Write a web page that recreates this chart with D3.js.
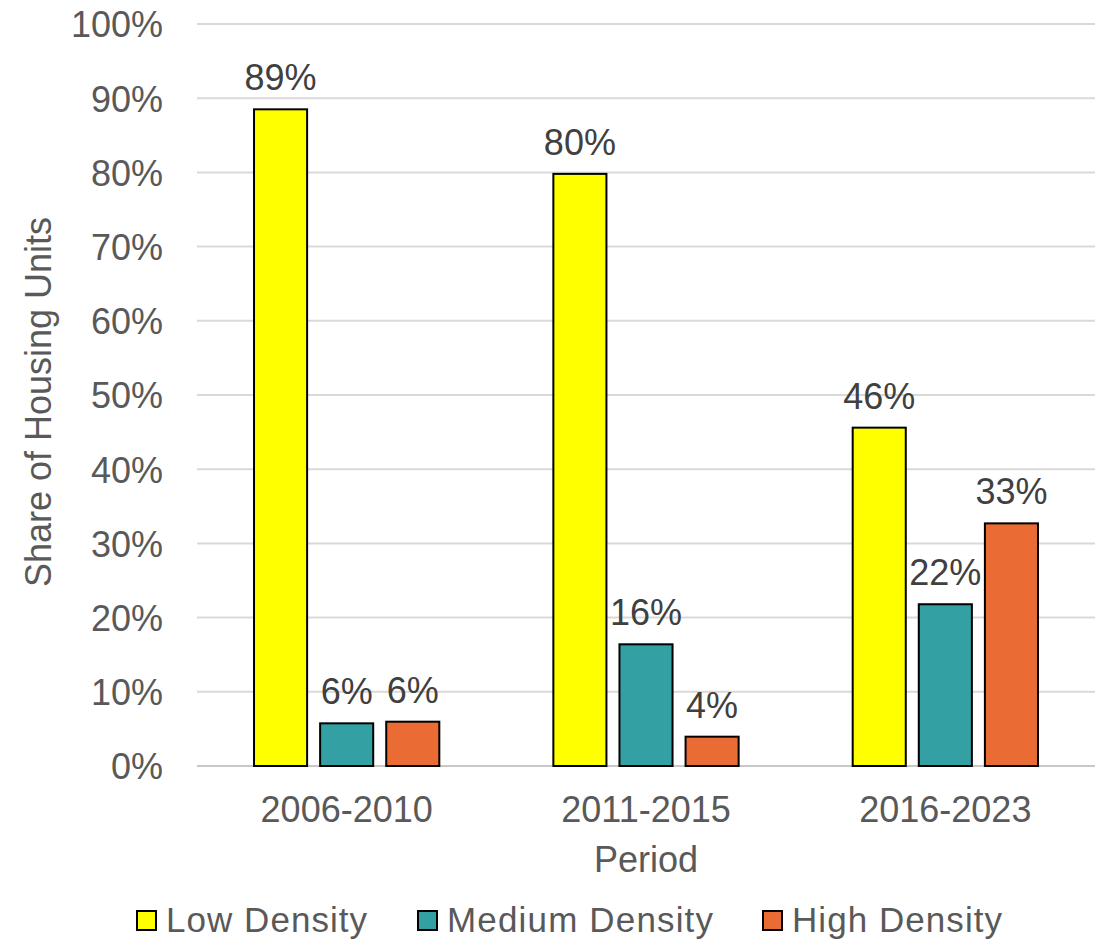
<!DOCTYPE html>
<html>
<head>
<meta charset="utf-8">
<script src="https://cdn.jsdelivr.net/npm/d3@7"></script>
<style>
	body { margin: 0; background: #fff; }
	text { font-family: Arial, "Liberation Sans", sans-serif; }
</style>
</head>
<body>
<div id="chart"></div>
<script>
// Data
const periods = ['2006-2010', '2011-2015', '2016-2023'];
const seriesNames = ['Low Density', 'Medium Density', 'High Density'];
const lowDensity = [0.885, 0.798, 0.456];
const mediumDensity = [0.0575, 0.164, 0.218];
const highDensity = [0.0597, 0.0395, 0.327];
const seriesColors = ['#ffff00', '#33a0a4', '#eb6b34'];
const yTicks = [0, 0.1, 0.2, 0.3, 0.4, 0.5, 0.6, 0.7, 0.8, 0.9, 1.0];

const seriesValues = [lowDensity, mediumDensity, highDensity];

const width = 1099, height = 941;
const margin = { top: 24, right: 4, bottom: 175, left: 197 };
const plotW = width - margin.left - margin.right;
const plotH = height - margin.top - margin.bottom;

const svg = d3.select('#chart').append('svg')
	.attr('width', width)
	.attr('height', height);

const g = svg.append('g')
	.attr('transform', 'translate(' + margin.left + ',' + margin.top + ')');

const x0 = d3.scaleBand()
	.domain(periods)
	.range([0, plotW])
	.paddingInner(0.381)
	.paddingOuter(0.1905);

const x1 = d3.scaleBand()
	.domain(seriesNames)
	.range([0, x0.bandwidth()])
	.paddingInner(0.197)
	.paddingOuter(0);

const y = d3.scaleLinear()
	.domain([0, 1])
	.range([plotH, 0]);

// gridlines
g.append('g')
	.selectAll('line')
	.data(yTicks)
	.join('line')
	.attr('x1', 0)
	.attr('x2', plotW)
	.attr('y1', d => y(d))
	.attr('y2', d => y(d))
	.attr('stroke', d => d === 0 ? '#c8c8c8' : '#d9d9d9')
	.attr('stroke-width', 2);

// y axis labels
const yAxis = g.append('g')
	.call(d3.axisLeft(y).tickValues(yTicks).tickFormat(d3.format('.0%')).tickSize(0).tickPadding(34));
yAxis.select('.domain').remove();
yAxis.selectAll('text')
	.attr('fill', '#595959')
	.style('font-size', '36px')
	.attr('dy', '0.36em');

// x axis labels
const xAxis = g.append('g')
	.attr('transform', 'translate(0,' + plotH + ')')
	.call(d3.axisBottom(x0).tickSize(0).tickPadding(30));
xAxis.select('.domain').remove();
xAxis.selectAll('text')
	.attr('fill', '#595959')
	.style('font-size', '36px')
	.attr('dy', '0.71em');

// bars
const rows = [];
periods.forEach((p, i) => {
	seriesNames.forEach((s, j) => {
		rows.push({ period: p, series: s, value: seriesValues[j][i], color: seriesColors[j] });
	});
});

const groups = g.append('g').selectAll('g')
	.data(rows)
	.join('g');

groups.append('rect')
	.attr('x', d => x0(d.period) + x1(d.series))
	.attr('y', d => y(d.value))
	.attr('width', x1.bandwidth())
	.attr('height', d => plotH - y(d.value))
	.attr('fill', d => d.color)
	.attr('stroke', '#000')
	.attr('stroke-width', 2);

groups.append('text')
	.attr('x', d => x0(d.period) + x1(d.series) + x1.bandwidth() / 2)
	.attr('y', d => y(d.value) - 19)
	.attr('text-anchor', 'middle')
	.attr('fill', '#404040')
	.style('font-size', '36px')
	.text(d => d3.format('.0%')(d.value));

// axis titles
svg.append('text')
	.attr('transform', 'translate(51,' + (margin.top + plotH / 2 + 7) + ') rotate(-90)')
	.attr('text-anchor', 'middle')
	.attr('fill', '#595959')
	.style('font-size', '36px')
	.text('Share of Housing Units');

svg.append('text')
	.attr('x', margin.left + plotW / 2)
	.attr('y', 872)
	.attr('text-anchor', 'middle')
	.attr('fill', '#595959')
	.style('font-size', '36px')
	.text('Period');

// legend
const legendX = [137, 418, 763];
const legend = svg.append('g').selectAll('g')
	.data(seriesNames)
	.join('g')
	.attr('transform', (d, i) => 'translate(' + legendX[i] + ',911)');

legend.append('rect')
	.attr('width', 19)
	.attr('height', 19)
	.attr('fill', (d, i) => seriesColors[i])
	.attr('stroke', '#000')
	.attr('stroke-width', 2);

legend.append('text')
	.attr('x', 29)
	.attr('y', 21)
	.attr('fill', '#595959')
	.style('font-size', '35px')
	.attr('textLength', (d, i) => [201, 266, 210][i])
	.text(d => d);
</script>
</body>
</html>
